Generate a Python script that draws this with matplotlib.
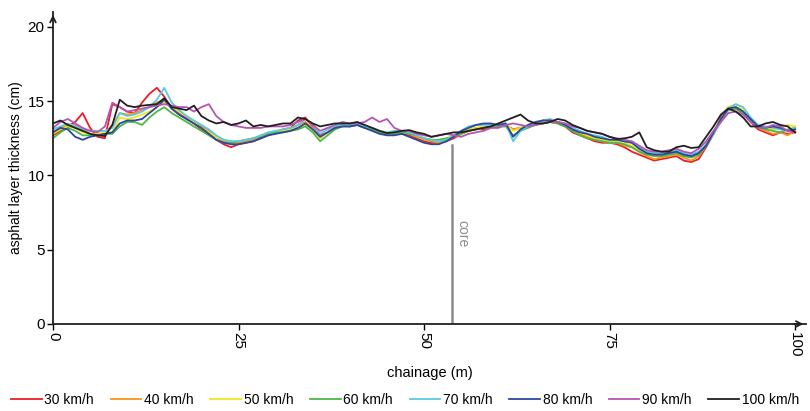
import matplotlib

matplotlib.use("Agg")
import matplotlib.pyplot as plt
import numpy as np

plt.rcParams["font.family"] = ["Liberation Sans", "DejaVu Sans"]

# chainage every metre, 0..100 m
chainage = np.arange(0, 101)

v30 = [12.7, 13.0, 13.3, 13.6, 14.2, 13.2, 12.6, 12.5, 14.8, 14.6,
       14.3, 14.2, 14.9, 15.5, 15.9, 15.3, 14.5, 14.1, 13.8, 13.5,
       13.1, 12.8, 12.4, 12.1, 11.9, 12.1, 12.2, 12.3, 12.5, 12.7,
       12.9, 13.1, 13.2, 13.7, 13.9, 13.3, 12.7, 12.9, 13.2, 13.4,
       13.3, 13.4, 13.2, 13.1, 12.9, 12.8, 12.8, 12.8, 12.7, 12.5,
       12.3, 12.2, 12.2, 12.3, 12.5, 12.8, 13.0, 13.2, 13.1, 13.3,
       13.3, 13.4, 13.1, 13.2, 13.3, 13.4, 13.7, 13.6, 13.5, 13.3,
       12.9, 12.7, 12.5, 12.3, 12.2, 12.2, 12.1, 11.9, 11.6, 11.4,
       11.2, 11.0, 11.1, 11.2, 11.3, 11.0, 10.9, 11.1, 11.9, 12.8,
       13.9, 14.6, 14.5, 14.2, 13.6, 13.1, 12.9, 12.7, 12.9, 12.8, 12.9]
v40 = [12.9, 13.2, 13.4, 13.4, 13.1, 12.8, 12.7, 12.8, 13.4, 14.2,
       14.1, 14.2, 14.4, 14.6, 14.9, 15.1, 14.5, 14.2, 13.9, 13.6,
       13.3, 13.0, 12.6, 12.3, 12.2, 12.2, 12.3, 12.4, 12.6, 12.8,
       12.9, 13.0, 13.1, 13.4, 13.6, 13.2, 12.6, 12.9, 13.3, 13.4,
       13.4, 13.4, 13.2, 13.1, 12.9, 12.8, 12.8, 12.9, 12.8, 12.6,
       12.4, 12.3, 12.2, 12.3, 12.6, 12.8, 13.0, 13.1, 13.2, 13.3,
       13.3, 13.4, 13.1, 13.2, 13.3, 13.5, 13.6, 13.6, 13.5, 13.3,
       13.0, 12.8, 12.6, 12.4, 12.3, 12.2, 12.2, 12.0, 11.9, 11.6,
       11.3, 11.1, 11.2, 11.3, 11.4, 11.2, 11.0, 11.3, 12.0, 12.8,
       13.7, 14.5, 14.6, 14.3, 13.7, 13.2, 13.0, 12.8, 12.9, 12.7, 13.0]
v50 = [12.8, 13.1, 13.3, 13.2, 12.9, 12.8, 12.8, 12.9, 12.9, 13.9,
       13.8, 13.9, 14.1, 14.3, 14.6, 14.9, 14.6, 14.3, 14.0, 13.6,
       13.2, 12.9, 12.6, 12.4, 12.3, 12.3, 12.4, 12.5, 12.7, 12.8,
       12.9, 13.0, 13.1, 13.2, 13.4, 13.1, 12.5, 12.9, 13.2, 13.3,
       13.4, 13.5, 13.3, 13.2, 13.0, 12.9, 12.9, 13.0, 12.9, 12.7,
       12.5, 12.4, 12.4, 12.5, 12.7, 12.9, 13.1, 13.2, 13.3, 13.4,
       13.4, 13.5, 13.0, 13.2, 13.4, 13.5, 13.6, 13.7, 13.5, 13.4,
       13.1, 12.9, 12.7, 12.5, 12.4, 12.3, 12.3, 12.2, 12.0, 11.7,
       11.5, 11.4, 11.4, 11.5, 11.6, 11.4, 11.3, 11.5, 12.1, 13.0,
       13.8, 14.6, 14.8, 14.4, 13.8, 13.3, 13.2, 13.1, 13.2, 13.4, 13.3]
v60 = [12.5, 12.9, 13.2, 13.0, 12.7, 12.7, 12.7, 12.8, 12.8, 13.3,
       13.6, 13.6, 13.4, 13.9, 14.3, 14.6, 14.2, 13.9, 13.6, 13.3,
       13.0, 12.7, 12.4, 12.2, 12.2, 12.3, 12.4, 12.5, 12.6, 12.8,
       12.9, 12.9, 13.0, 13.1, 13.3, 12.9, 12.3, 12.7, 13.1, 13.3,
       13.3, 13.4, 13.2, 13.1, 12.9, 12.8, 12.8, 12.9, 12.8, 12.7,
       12.5, 12.4, 12.4, 12.5, 12.6, 12.8, 13.0, 13.1, 13.2, 13.3,
       13.3, 13.3, 12.7, 13.0, 13.2, 13.4, 13.5, 13.6, 13.5, 13.3,
       13.0, 12.7, 12.5, 12.4, 12.3, 12.2, 12.2, 12.1, 11.9, 11.6,
       11.4, 11.3, 11.3, 11.4, 11.5, 11.3, 11.2, 11.4, 12.0, 12.8,
       13.7, 14.4, 14.5, 14.2, 13.7, 13.2, 13.1, 13.0, 12.9, 13.1, 13.2]
v70 = [13.1, 13.3, 13.5, 13.3, 13.1, 13.0, 13.0, 13.0, 13.2, 14.2,
       14.0, 14.1, 14.3, 14.6, 15.1, 15.9, 14.9, 14.4, 14.0, 13.7,
       13.4, 13.1, 12.7, 12.4, 12.3, 12.3, 12.4, 12.5, 12.7, 12.9,
       13.0, 13.1, 13.2, 13.4, 13.8, 13.4, 12.8, 13.1, 13.3, 13.4,
       13.4, 13.5, 13.3, 13.2, 13.0, 12.9, 13.0, 13.0, 12.9, 12.7,
       12.5, 12.4, 12.3, 12.4, 12.7, 13.0, 13.3, 13.4, 13.4, 13.4,
       13.4, 13.5, 12.3, 13.0, 13.3, 13.5, 13.7, 13.8, 13.6, 13.5,
       13.2, 13.0, 12.8, 12.7, 12.6, 12.4, 12.4, 12.3, 12.2, 11.9,
       11.6, 11.5, 11.5, 11.6, 11.7, 11.5, 11.4, 11.6, 12.1, 12.8,
       13.6, 14.5, 14.8, 14.6, 13.9, 13.4, 13.3, 13.2, 13.1, 13.0, 13.2]
v80 = [12.9, 13.2, 13.1, 12.6, 12.4, 12.6, 12.7, 12.8, 12.9, 13.5,
       13.7, 13.7, 13.8, 14.2, 14.6, 15.1, 14.5, 14.1, 13.8, 13.5,
       13.2, 12.8, 12.4, 12.2, 12.1, 12.1, 12.2, 12.3, 12.5, 12.7,
       12.8, 12.9, 13.0, 13.2, 13.5, 13.1, 12.6, 12.9, 13.2, 13.3,
       13.3, 13.4, 13.2, 13.0, 12.8, 12.7, 12.7, 12.8, 12.6, 12.4,
       12.2, 12.1, 12.1, 12.3, 12.6, 13.0, 13.2, 13.4, 13.5, 13.5,
       13.4, 13.5, 12.6, 13.1, 13.4, 13.6, 13.7, 13.7, 13.6, 13.4,
       13.1, 12.9, 12.8, 12.6, 12.5, 12.4, 12.4, 12.3, 12.2, 11.8,
       11.5, 11.4, 11.4, 11.5, 11.6, 11.4, 11.3, 11.5, 12.0, 12.9,
       13.8, 14.5, 14.6, 14.3, 13.8, 13.3, 13.2, 13.3, 13.2, 13.0, 13.1]
v90 = [13.2, 13.6, 13.8, 13.5, 13.2, 13.0, 12.9, 13.3, 14.9, 14.6,
       14.3, 14.4, 14.5, 14.6, 14.7, 14.8, 14.7, 14.6, 14.6, 14.3,
       14.6, 14.8, 14.0, 13.6, 13.4, 13.3, 13.2, 13.2, 13.2, 13.3,
       13.3, 13.3, 13.4, 13.6, 13.8, 13.4, 13.0, 13.2, 13.4, 13.6,
       13.5, 13.5, 13.6, 13.9, 13.6, 13.8, 13.2, 13.0, 13.0, 12.8,
       12.7, 12.6, 12.7, 12.8, 12.7, 12.6, 12.8, 12.9, 13.0, 13.2,
       13.2, 13.4, 13.5, 13.4, 13.3, 13.4, 13.5, 13.6, 13.6, 13.5,
       13.3, 13.2, 13.0, 12.9, 12.8, 12.6, 12.5, 12.4, 12.3, 12.0,
       11.7, 11.6, 11.6, 11.7, 11.8, 11.6, 11.5, 11.8, 12.3, 13.0,
       13.6, 14.2, 14.3, 14.1, 13.6, 13.2, 13.2, 13.4, 13.3, 13.0, 12.9]
v100 = [13.5, 13.7, 13.4, 13.2, 13.0, 12.8, 12.7, 12.65, 13.4, 15.1,
        14.7, 14.6, 14.7, 14.75, 14.8, 15.2, 14.6, 14.5, 14.4, 14.7,
        14.0, 13.7, 13.5, 13.6, 13.4, 13.5, 13.7, 13.3, 13.4, 13.3,
        13.4, 13.5, 13.5, 13.9, 13.8, 13.5, 13.3, 13.4, 13.5, 13.5,
        13.5, 13.6, 13.4, 13.2, 13.0, 12.85, 12.9, 13.0, 13.05, 12.9,
        12.8, 12.6, 12.7, 12.8, 12.9, 12.9, 13.0, 13.1, 13.2, 13.3,
        13.5, 13.7, 13.9, 14.1, 13.7, 13.5, 13.5, 13.6, 13.8, 13.7,
        13.4, 13.2, 13.0, 12.9, 12.8, 12.6, 12.45, 12.5, 12.6, 12.9,
        11.9, 11.7, 11.6, 11.6, 11.9, 12.0, 11.85, 11.9, 12.6, 13.3,
        14.1, 14.5, 14.3, 13.9, 13.3, 13.3, 13.5, 13.6, 13.4, 13.3, 12.9]

series = [v30, v40, v50, v60, v70, v80, v90, v100]
labels = ["30 km/h", "40 km/h", "50 km/h", "60 km/h",
          "70 km/h", "80 km/h", "90 km/h", "100 km/h"]
colors = ["#ed1c24", "#f7941d", "#f2e41c", "#4cb848",
          "#5cc8e0", "#2e46a0", "#b455b4", "#231f20"]

core_at = 53.8
core_top = 12.05

fig = plt.figure(figsize=(8.1, 4.11), dpi=100)
ax = fig.add_axes([0.0654, 0.2117, 0.93, 0.759])

for vals, lab, col in zip(series, labels, colors):
    ax.plot(chainage, vals, color=col, lw=1.3, label=lab)

ax.plot([core_at, core_at], [0, core_top], color="#8c8c8c", lw=1.8)
ax.text(core_at + 0.4, 7.0, "core", rotation=270, color="#8c8c8c",
        ha="left", va="top", fontsize=10)

ax.set_xlim(0, 101.5)
ax.set_ylim(0, 21)
ax.set_xticks([0, 25, 50, 75, 100])
ax.set_xticklabels(["0", "25", "50", "75", "100"], rotation=270)
ax.set_yticks([0, 5, 10, 15, 20])
ax.tick_params(labelsize=11, length=4, width=1, direction="out", pad=2)
for side in ["top", "right"]:
    ax.spines[side].set_visible(False)
for side in ["left", "bottom"]:
    ax.spines[side].set_linewidth(1.3)
    ax.spines[side].set_color("#231f20")

# arrow heads at the ends of both axes
ax.annotate("", xy=(1.0, 0), xytext=(0.98, 0), xycoords="axes fraction",
            arrowprops=dict(arrowstyle="->", lw=1.3, color="#231f20"))
ax.annotate("", xy=(0, 1.0), xytext=(0, 0.97), xycoords="axes fraction",
            arrowprops=dict(arrowstyle="->", lw=1.3, color="#231f20"))

ax.set_xlabel("chainage (m)", fontsize=10.5, labelpad=6)
ax.set_ylabel("asphalt layer thickness (cm)", fontsize=10, labelpad=3)

fig.legend(loc="lower center", bbox_to_anchor=(0.5, -0.02), ncol=8,
           frameon=False, fontsize=10, handlelength=2.2, handletextpad=0.2,
           columnspacing=1.2)

fig.savefig("out.png", dpi=100)
